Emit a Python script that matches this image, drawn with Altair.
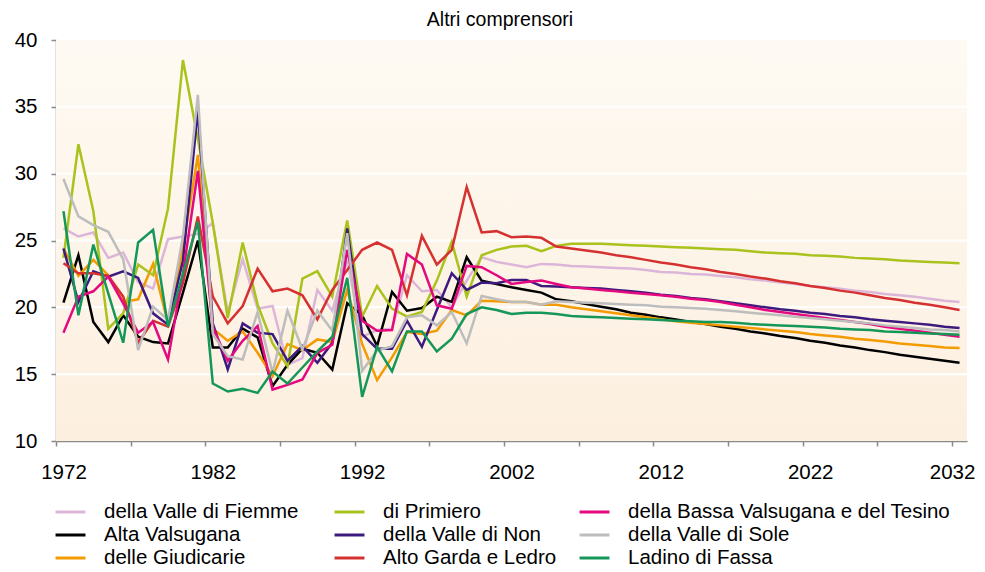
import altair as alt
import pandas as pd

years = list(range(1972, 2033))

fiemme = [25.9, 25.3, 25.6, 23.7, 24.1, 21.9, 21.4, 25.1, 25.3, 25.5,
          26.3, 19.6, 23.6, 19.9, 20.1, 15.7, 16.2, 21.3, 19.75, 23.5,
          17.8, 18.3, 18.4, 22.4, 21.2, 21.3, 20.0, 22.0, 23.75, 23.4,
          23.2, 23.0, 23.25, 23.2, 23.1, 23.05, 23.0, 22.95, 22.9, 22.8,
          22.65, 22.6, 22.5, 22.45, 22.35, 22.25, 22.1, 22.0, 21.85, 21.75,
          21.6, 21.5, 21.4, 21.25, 21.15, 21.0, 20.9, 20.8, 20.65, 20.5, 20.4]
primiero = [23.7, 32.2, 27.2, 18.4, 19.55, 23.2, 22.4, 27.4, 38.5, 32.6,
            26.3, 19.2, 24.85, 20.2, 17.3, 15.6, 22.15, 22.7, 20.8, 26.5,
            19.3, 21.6, 19.9, 19.3, 19.65, 22.0, 24.9, 20.8, 23.9, 24.3,
            24.55, 24.6, 24.2, 24.6, 24.75, 24.75, 24.75, 24.7, 24.65, 24.6,
            24.55, 24.5, 24.45, 24.4, 24.35, 24.3, 24.2, 24.1, 24.05, 24.0,
            23.9, 23.85, 23.8, 23.7, 23.65, 23.6, 23.5, 23.45, 23.4, 23.35, 23.3]
bassa = [18.1, 20.8, 21.2, 22.3, 20.3, 18.1, 18.9, 16.1, 22.5, 30.2,
         18.5, 16.0, 17.5, 18.6, 13.85, 14.2, 14.6, 16.6, 17.2, 24.3,
         19.0, 18.25, 18.3, 24.0, 23.2, 20.15, 19.9, 23.1, 23.0, 22.4,
         21.75, 21.9, 22.0, 21.75, 21.5, 21.4, 21.3, 21.2, 21.1, 21.0,
         20.9, 20.8, 20.65, 20.55, 20.4, 20.2, 20.0, 19.8, 19.65, 19.5,
         19.35, 19.2, 19.05, 18.9, 18.75, 18.55, 18.4, 18.25, 18.1, 17.95, 17.8]
alta = [20.35, 23.9, 18.9, 17.4, 19.4, 17.8, 17.4, 17.3, 21.1, 25.0,
        17.0, 17.0, 18.4, 17.75, 14.1, 15.7, 16.9, 16.6, 15.35, 20.3,
        19.4, 17.1, 21.15, 19.75, 19.95, 20.8, 20.4, 23.75, 22.0, 21.75,
        21.5, 21.3, 21.1, 20.6, 20.45, 20.25, 20.05, 19.85, 19.6, 19.45,
        19.25, 19.1, 18.9, 18.75, 18.55, 18.4, 18.2, 18.05, 17.85, 17.7,
        17.5, 17.35, 17.15, 17.0, 16.8, 16.65, 16.45, 16.3, 16.15, 16.0, 15.85]
non = [24.4, 20.4, 22.7, 22.3, 22.7, 22.2, 19.55, 18.7, 23.5, 34.75,
       18.8, 15.35, 18.8, 18.1, 18.0, 16.0, 17.1, 15.85, 17.35, 25.9,
       18.0, 16.9, 16.9, 19.0, 17.05, 19.8, 22.55, 21.3, 21.85, 21.8,
       22.05, 22.05, 21.6, 21.55, 21.5, 21.45, 21.4, 21.3, 21.2, 21.1,
       20.95, 20.85, 20.7, 20.6, 20.45, 20.3, 20.15, 20.0, 19.85, 19.75,
       19.6, 19.5, 19.35, 19.25, 19.1, 19.0, 18.9, 18.8, 18.7, 18.55, 18.45]
sole = [29.6, 26.8, 26.15, 25.65, 23.6, 16.8, 20.05, 19.05, 25.3, 35.9,
        18.0, 16.35, 16.1, 19.65, 15.1, 19.75, 16.85, 19.75, 18.25, 25.55,
        15.25, 16.75, 17.1, 19.25, 19.4, 18.65, 19.65, 17.3, 20.85, 20.6,
        20.4, 20.4, 20.2, 20.45, 20.4, 20.35, 20.3, 20.25, 20.2, 20.15,
        20.05, 20.0, 19.95, 19.9, 19.8, 19.7, 19.6, 19.5, 19.4, 19.3,
        19.2, 19.1, 19.0, 18.9, 18.8, 18.65, 18.55, 18.45, 18.35, 18.3, 18.2]
giudicarie = [24.4, 22.35, 23.55, 22.4, 20.4, 20.6, 23.25, 18.8, 24.5, 31.4,
              18.4, 17.5, 18.2, 16.6, 14.85, 17.25, 16.8, 17.6, 17.4, 21.3,
              17.25, 14.55, 16.25, 18.15, 18.0, 18.25, 19.8, 19.4, 20.5, 20.45,
              20.4, 20.4, 20.2, 20.2, 20.0, 19.85, 19.7, 19.55, 19.4, 19.25,
              19.1, 18.95, 18.85, 18.75, 18.65, 18.55, 18.45, 18.35, 18.25, 18.15,
              18.0, 17.9, 17.8, 17.65, 17.55, 17.45, 17.3, 17.2, 17.1, 17.0, 16.95]
garda = [23.3, 22.55, 22.55, 22.35, 20.8, 17.35, 19.0, 18.55, 21.8, 26.8,
         20.8, 18.8, 20.1, 22.9, 21.2, 21.4, 20.9, 19.1, 21.3, 22.8,
         24.3, 24.85, 24.3, 20.9, 25.35, 23.2, 24.3, 29.0, 25.6, 25.7,
         25.25, 25.3, 25.2, 24.55, 24.4, 24.25, 24.1, 23.9, 23.75, 23.55,
         23.35, 23.2, 23.0, 22.85, 22.65, 22.5, 22.3, 22.15, 21.95, 21.8,
         21.6, 21.45, 21.25, 21.1, 20.9, 20.7, 20.55, 20.35, 20.2, 20.0, 19.8]
fassa = [27.2, 19.4, 24.7, 21.05, 17.35, 24.85, 25.8, 18.55, 22.5, 26.4,
         14.3, 13.7, 13.9, 13.6, 15.2, 14.3, 15.5, 16.7, 17.8, 22.2,
         13.3, 17.05, 15.2, 18.2, 18.2, 16.7, 17.65, 19.5, 20.0, 19.8,
         19.5, 19.6, 19.6, 19.5, 19.35, 19.3, 19.25, 19.2, 19.15, 19.1,
         19.05, 19.0, 18.95, 18.9, 18.9, 18.85, 18.75, 18.7, 18.65, 18.6,
         18.55, 18.5, 18.4, 18.35, 18.3, 18.2, 18.15, 18.1, 18.05, 18.0, 17.95]

names = ["della Valle di Fiemme", "di Primiero", "della Bassa Valsugana e del Tesino",
         "Alta Valsugana", "della Valle di Non", "della Valle di Sole",
         "delle Giudicarie", "Alto Garda e Ledro", "Ladino di Fassa"]
colors = ["#dcb6d9", "#a9c21c", "#e5097f",
          "#000000", "#3d1a7e", "#bdbdbd",
          "#f39b00", "#d63131", "#16975a"]
values = [fiemme, primiero, bassa, alta, non, sole, giudicarie, garda, fassa]
title_text = ["Altri comprensori"]

x_ticks = [1971.5 + 5 * i for i in range(13)]
y_ticks = [10, 15, 20, 25, 30, 35, 40]
grid_vals = [15, 20, 25, 30, 35]

rows = []
for n, v in zip(names, values):
    for yr, val in zip(years, v):
        rows.append({"anno": yr, "serie": n, "valore": val})
df = pd.DataFrame(rows)

FONT = "Liberation Sans"
W, H = 911, 401

x_scale = alt.Scale(domain=[1971.5, 2032.5], nice=False, zero=False)
y_scale = alt.Scale(domain=[10, 40], nice=False, zero=False)
x_axis = alt.Axis(values=x_ticks, title=None, grid=False,
                  labelExpr="(datum.value - 1971.5) % 10 == 0 ? format(datum.value + 0.5, 'd') : ''",
                  labelOffset={"condition": {"test": "datum.value > 2030", "value": 0},
                               "value": 7.47},
                  labelFlush=False, labelOverlap=False,
                  labelPadding=16, tickSize=5, tickColor="#8a8a8a",
                  domainColor="#8a8a8a", domainWidth=1.5, tickWidth=1.5,
                  labelFontSize=20.5, labelFont=FONT, labelColor="black")
y_axis = alt.Axis(values=y_ticks, title=None, grid=False, tickSize=5,
                  tickColor="#8a8a8a", domainColor="#8a8a8a", domainWidth=1.5,
                  tickWidth=1.5, labelPadding=14, labelFontSize=20.5,
                  labelFont=FONT, labelColor="black")

bg = alt.Chart(pd.DataFrame({"k": [0]})).mark_rect(
    fill=alt.LinearGradient(gradient="linear",
                            stops=[alt.GradientStop(offset=0, color="#fefaf3"),
                                   alt.GradientStop(offset=1, color="#fcefdf")],
                            x1=0, x2=0, y1=0, y2=1)
).encode(x=alt.value(0), x2=alt.value(W), y=alt.value(0), y2=alt.value(H))

grid = alt.Chart(pd.DataFrame({"v": grid_vals})).mark_rule(
    color="white", strokeWidth=2
).encode(y=alt.Y("v:Q", scale=y_scale, axis=y_axis))

title = alt.Chart(pd.DataFrame({"t": title_text})).mark_text(
    font=FONT, fontSize=19.5, color="black", align="center", baseline="alphabetic"
).encode(text="t:N", x=alt.value(444), y=alt.value(-14))

groups = [[0, 3, 6], [1, 4, 7], [2, 5, 8]]
leg_x = [2, 281, 526]

layers = [bg, grid]
for gi, g in enumerate(groups):
    gnames = [names[i] for i in g]
    gcols = [colors[i] for i in g]
    layer = alt.Chart(df).transform_filter(
        alt.FieldOneOfPredicate(field="serie", oneOf=gnames)
    ).mark_line(strokeWidth=2.5).encode(
        x=alt.X("anno:Q", scale=x_scale, axis=x_axis),
        y=alt.Y("valore:Q", scale=y_scale, axis=y_axis),
        color=alt.Color("serie:N",
                        scale=alt.Scale(domain=gnames, range=gcols),
                        legend=alt.Legend(title=None, orient="none",
                                          legendX=leg_x[gi], legendY=459.5,
                                          direction="vertical",
                                          symbolType="M-1.36,0H1.36",
                                          symbolSize=484, symbolStrokeWidth=3,
                                          labelFontSize=20.5, labelFont=FONT,
                                          labelColor="black", rowPadding=0,
                                          labelOffset=21, padding=0, labelLimit=400)),
    )
    layers.append(layer)
layers.append(title)

chart = alt.layer(*layers).resolve_scale(color="independent").properties(
    width=W, height=H,
    autosize=alt.AutoSizeParams(type="none"),
    padding={"left": 48, "top": 32, "right": 10, "bottom": 131},
).configure_view(stroke=None)

chart.save("out.html", embed_options={"renderer": "svg", "actions": False})
